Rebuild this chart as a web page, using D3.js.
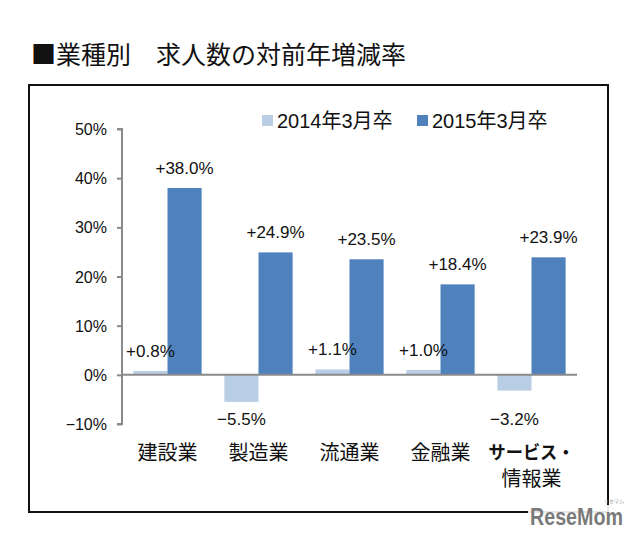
<!DOCTYPE html>
<html>
<head>
<meta charset="utf-8">
<script src="https://cdn.jsdelivr.net/npm/d3@7"></script>
<style>
  html, body { margin: 0; padding: 0; background: #fff; }
  svg { display: block; }
</style>
</head>
<body>
<svg id="chart" width="640" height="540"></svg>
<script>
const title = "■業種別\u3000求人数の対前年増減率";
const categories = ["建設業", "製造業", "流通業", "金融業", "サービス・情報業"];
const categoryLines = [["建設業"], ["製造業"], ["流通業"], ["金融業"], ["サービス・", "情報業"]];
const seriesNames = ["2014年3月卒", "2015年3月卒"];
const values2014 = [0.8, -5.5, 1.1, 1.0, -3.2];
const values2015 = [38.0, 24.9, 23.5, 18.4, 23.9];
const yTicks = [-10, 0, 10, 20, 30, 40, 50];
const colors = ["#b9cde5", "#4f81bd"];

const NUM = "'Liberation Sans', Arial, 'Noto Sans CJK JP', sans-serif";
const CJK = "'Noto Sans CJK JP', 'Noto Sans', sans-serif";

const svg = d3.select("#chart");

// outer frame
svg.append("rect")
  .attr("x", 29).attr("y", 85).attr("width", 579).attr("height", 427)
  .attr("fill", "none").attr("stroke", "#111").attr("stroke-width", 2);

// title
svg.append("text")
  .attr("x", 31).attr("y", 53)
  .attr("dominant-baseline", "central")
  .attr("font-family", CJK).attr("font-size", 25).attr("fill", "#111")
  .text(title);

const y = d3.scaleLinear().domain([-10, 50]).range([424, 129]);
const x0 = d3.scaleBand().domain(categories).range([122, 577])
  .paddingInner(0.25).paddingOuter(0.125);
const x1 = d3.scaleBand().domain([0, 1]).range([0, x0.bandwidth()]);

const data = categories.map((c, i) => ({ cat: c, vals: [values2014[i], values2015[i]] }));

// bars
const groups = svg.append("g").selectAll("g").data(data).join("g")
  .attr("transform", d => `translate(${x0(d.cat)},0)`);
groups.selectAll("rect").data(d => d.vals.map((v, k) => ({ v, k }))).join("rect")
  .attr("x", d => x1(d.k))
  .attr("width", x1.bandwidth())
  .attr("y", d => y(Math.max(0, d.v)))
  .attr("height", d => Math.abs(y(d.v) - y(0)))
  .attr("fill", d => colors[d.k]);

// y axis
const yAxis = d3.axisLeft(y).tickValues(yTicks).tickSize(5).tickPadding(10)
  .tickFormat(d => (d < 0 ? "\u2212" + Math.abs(d) : d) + "%");
const ya = svg.append("g").attr("transform", "translate(122,0)").call(yAxis);
ya.select(".domain").attr("stroke", "#8a8a8a").attr("stroke-width", 2)
  .attr("d", `M-5,${y(50)}H0V${y(-10)}H-5`);
ya.selectAll(".tick line").attr("stroke", "#8a8a8a").attr("stroke-width", 2);
ya.selectAll(".tick text").attr("font-family", NUM).attr("font-size", 16)
  .attr("fill", "#111").attr("dy", "0.35em").attr("x", -15);

// zero line
svg.append("line")
  .attr("x1", 122).attr("x2", 577).attr("y1", y(0)).attr("y2", y(0))
  .attr("stroke", "#8a8a8a").attr("stroke-width", 2);

// value labels
const fmt = v => (v > 0 ? "+" : "\u2212") + Math.abs(v).toFixed(1) + "%";
data.forEach(d => {
  d.vals.forEach((v, k) => {
    const cx = x0(d.cat) + x1(k) + x1.bandwidth() / 2;
    const ty = v >= 0 ? y(v) - 14 : y(-10) + 1;
    svg.append("text")
      .attr("x", cx).attr("y", ty)
      .attr("text-anchor", "middle")
      .attr("font-family", NUM).attr("font-size", 17).attr("fill", "#111")
      .text(fmt(v));
  });
});

// category labels
data.forEach((d, i) => {
  const cx = x0(d.cat) + x0.bandwidth() / 2;
  categoryLines[i].forEach((line, j) => {
    const bold = categoryLines[i].length > 1 && j === 0;
    const t = svg.append("text")
      .attr("x", cx).attr("y", 451 + j * 26)
      .attr("text-anchor", "middle").attr("dominant-baseline", "central")
      .attr("font-family", CJK).attr("font-size", bold ? 18 : 20)
      .attr("font-weight", bold ? "bold" : "normal")
      .attr("fill", "#111")
      .text(line);
    if (bold) t.attr("textLength", 86).attr("lengthAdjust", "spacingAndGlyphs");
  });
});

// legend
const legendX = [262, 417];
seriesNames.forEach((name, k) => {
  svg.append("rect")
    .attr("x", legendX[k]).attr("y", 115).attr("width", 11).attr("height", 11)
    .attr("fill", colors[k]);
  svg.append("text")
    .attr("x", legendX[k] + 15).attr("y", 121)
    .attr("dominant-baseline", "central")
    .attr("font-family", NUM).attr("font-size", 20).attr("fill", "#111")
    .text(name);
});

// watermark
svg.append("rect").attr("x", 528).attr("y", 505).attr("width", 100).attr("height", 24)
  .attr("fill", "#fff").attr("opacity", 0.9);
svg.append("g").attr("transform", "translate(530,525) scale(0.82,1)")
  .append("text")
  .attr("x", 0).attr("y", 0)
  .attr("font-family", "'Liberation Sans', Arial, sans-serif")
  .attr("font-weight", "bold").attr("font-size", 24).attr("fill", "#7a7a7a")
  .text("ReseMom");
svg.append("text")
  .attr("x", 614).attr("y", 503)
  .attr("text-anchor", "middle")
  .attr("font-family", CJK).attr("font-size", 5).attr("fill", "#999")
  .text("リセマム");
</script>
</body>
</html>
